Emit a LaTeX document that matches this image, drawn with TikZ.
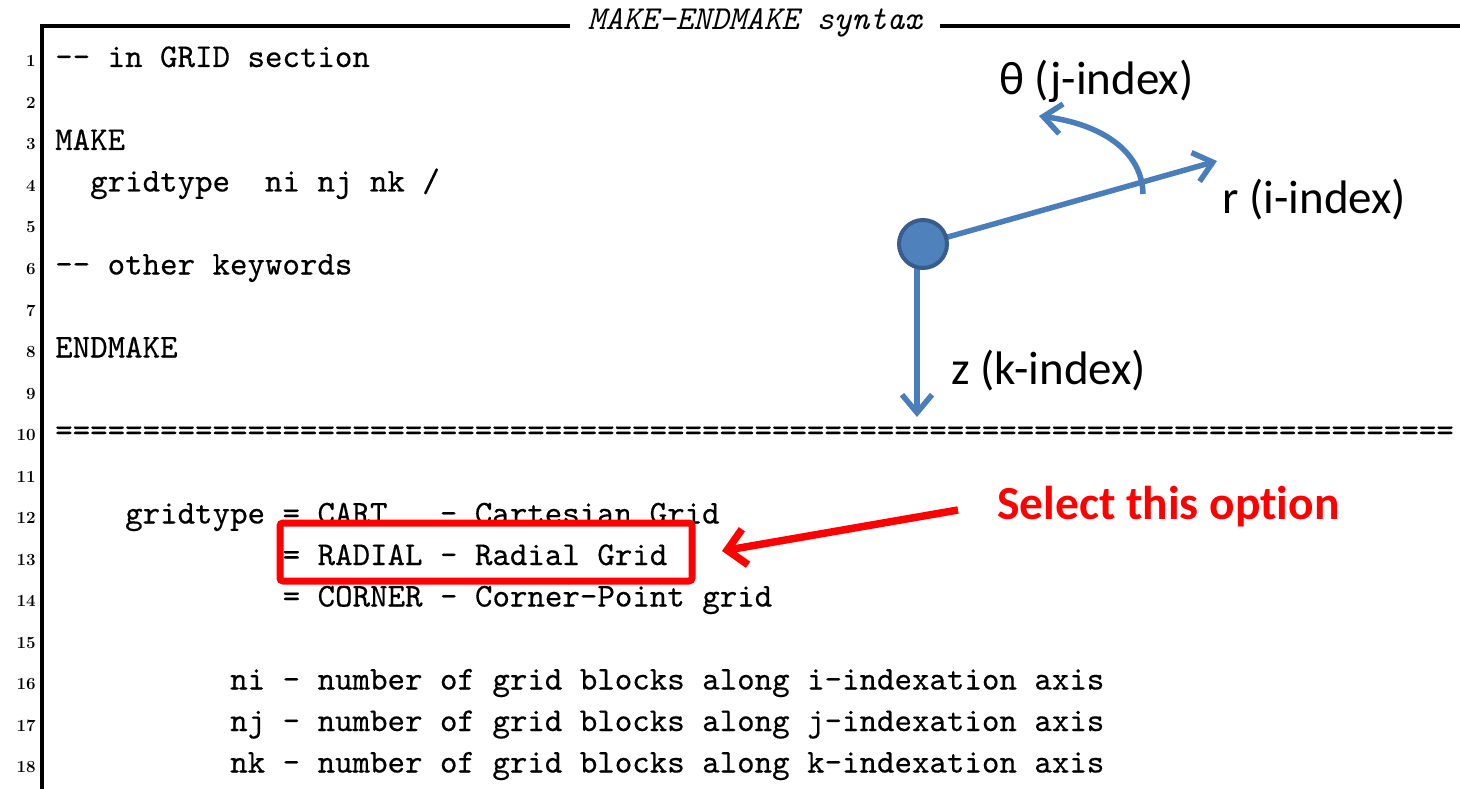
\documentclass[tikz,border=0pt]{standalone}
\usepackage{fontspec}
\newfontfamily\calibrifont[Ligatures=NoCommon]{Carlito}
\newfontfamily\codefont[FakeBold=0.4]{lmmono10-regular.otf}
\usetikzlibrary{arrows.meta}
\definecolor{axisblue}{HTML}{4A7EBB}
\definecolor{dotfill}{HTML}{4F81BD}
\definecolor{dotedge}{HTML}{385D8A}
\definecolor{markred}{HTML}{FF0000}
\newcommand\eqten{==========}
\tikzset{
  code/.style={anchor=base west, inner sep=0pt, font=\fontsize{33.3}{40}\selectfont\codefont},
  lnum/.style={anchor=base east, inner sep=0pt, font=\fontsize{17}{20}\selectfont\bfseries},
  frameline/.style={line width=3.5pt, black},
  axisline/.style={draw=axisblue, line width=5.5pt, -{Straight Barb[length=18pt,width=30pt]}},
  axislabel/.style={anchor=base west, inner sep=0pt, font=\calibrifont\fontsize{47}{50}\selectfont},
  redbox/.style={draw=markred, line width=7pt, rounded corners=3pt, inner sep=0pt},
  redarrow/.style={draw=markred, line width=7.5pt, -{Straight Barb[length=18pt,width=36pt]}},
}
\begin{document}
\begin{tikzpicture}[x=1pt, y=-1pt]
\useasboundingbox (0,0) rectangle (1460,789);

% frame with title
\node[inner sep=0pt, inner xsep=18pt, anchor=base,
      font=\fontsize{33.5}{40}\selectfont\ttfamily\itshape] (title) at (755,30) {MAKE-ENDMAKE syntax};
\coordinate (tl) at (42,26);
\coordinate (tr) at (1460,26);
\coordinate (bl) at (42,789);
\draw[frameline] (bl) -- (tl) -- (tl -| title.west);
\draw[frameline] (tl -| title.east) -- (tr);

% line numbers
\foreach \i in {1,...,18}
  \node[lnum] (n\i) at (36,{67+41.5*(\i-1)}) {\i};

% listing
\node[code] (l1)  at (55,67)    {-{}- in GRID section};
\node[code] (l3)  at (55,150)   {MAKE};
\node[code] (l4)  at (90,191.5) {gridtype~~ni nj nk /};
\node[code] (l6)  at (55,274.5) {-{}- other keywords};
\node[code] (l8)  at (55,357.5) {ENDMAKE};
\node[code] (l10) at (55,440.5) {\eqten\eqten\eqten\eqten\eqten\eqten\eqten\eqten};
\node[code] (l12) at (125,523.5) {gridtype = CART~~~- Cartesian Grid};
\node[code] (l13) at (282.5,565) {= RADIAL - Radial Grid};
\node[code] (l14) at (282.5,606.5) {= CORNER - Corner-Point grid};
\node[code] (l16) at (230,689.5) {ni - number of grid blocks along i-indexation axis};
\node[code] (l17) at (230,731)   {nj - number of grid blocks along j-indexation axis};
\node[code] (l18) at (230,772.5) {nk - number of grid blocks along k-indexation axis};

% cylindrical axes
\coordinate (rtip) at (1217,161);
\coordinate (ztip) at (917,417);
\coordinate (tstart) at (1143,194);
\coordinate (ttip) at (1039,116);
\node[circle, minimum size=48pt, inner sep=0pt] (origin) at (923,244) {};
\draw[axisline] (origin.center) -- (rtip);
\draw[axisline] (ztip |- origin.center) -- (ztip);
\draw[axisline] (tstart) .. controls (1142,150) and (1100,124) .. (ttip);
\node[circle, fill=dotfill, draw=dotedge, line width=4pt, minimum size=48pt, inner sep=0pt] at (origin.center) {};
\node[axislabel] (rlab) at (1222,213) {r (i-index)};
\node[axislabel] (tlab) at (999,95)  {θ (j-index)};
\node[axislabel] (zlab) at (951,384)  {z (k-index)};

% highlighted option
\node[redbox, minimum width=412pt, minimum height=58pt] (sel) at (486,552) {};
\node[anchor=base west, inner sep=0pt, text=markred,
      font=\calibrifont\bfseries\fontsize{47.5}{50}\selectfont] (hint) at (997,519) {Select this option};
\coordinate (hstart) at (958,510);
\coordinate (htip) at (722,551);
\draw[redarrow] (hstart) -- (htip);
\end{tikzpicture}
\end{document}
